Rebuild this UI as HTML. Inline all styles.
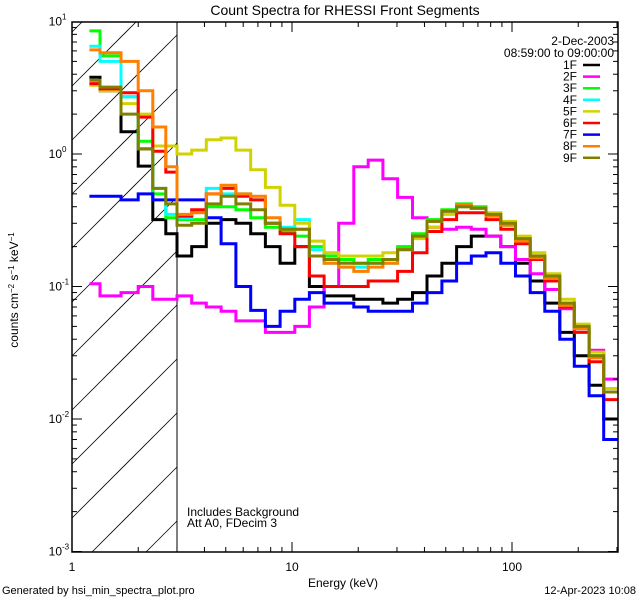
<!DOCTYPE html>
<html><head><meta charset="utf-8"><style>
html,body{margin:0;padding:0;background:#fff;width:640px;height:600px;overflow:hidden;}
svg{display:block;font-family:"Liberation Sans",sans-serif;}
</style></head><body>
<svg id="chart" width="640" height="600" viewBox="0 0 640 600">
<rect width="640" height="600" fill="#fff"/>
<text x="345" y="15" font-size="14" text-anchor="middle">Count Spectra for RHESSI Front Segments</text>
<defs><clipPath id="pc"><rect x="72" y="22" width="546" height="530"/></clipPath></defs>
<g id="hatch"></g>
<line x1="177" y1="22" x2="177" y2="552" stroke="#000" stroke-width="1"/>
<g id="series" clip-path="url(#pc)"></g>
<rect x="72" y="22" width="546" height="530" fill="none" stroke="#000" stroke-width="1.5"/>
<g id="ticks"></g>
<g id="legend" font-size="12">
<text x="614" y="45" text-anchor="end">2-Dec-2003</text>
<text x="614" y="57" text-anchor="end">08:59:00 to 09:00:00</text>
</g>
<text x="187" y="516" font-size="12">Includes Background</text>
<text x="187" y="527" font-size="12">Att A0, FDecim 3</text>
<text x="343" y="587" font-size="12" text-anchor="middle">Energy (keV)</text>
<text transform="translate(18,290) rotate(-90)" font-size="12" text-anchor="middle">counts cm<tspan dy="-4" font-size="8">−2</tspan><tspan dy="4"> s</tspan><tspan dy="-4" font-size="8">−1</tspan><tspan dy="4"> keV</tspan><tspan dy="-4" font-size="8">−1</tspan></text>
<text x="2" y="594" font-size="11">Generated by hsi_min_spectra_plot.pro</text>
<text x="636" y="594" font-size="11" text-anchor="end">12-Apr-2023 10:08</text>
</svg>
<script>
const energyEdges=[1.2,1.34,1.67,2.0,2.33,2.67,3.0,3.5,4.08,4.76,5.56,6.49,7.57,8.83,10.3,12.0,14.0,16.3,19.1,22.2,25.9,30.2,35.3,41.1,48.0,56.0,65.3,76.2,88.9,103.7,121,141,165,192,224,261,305];
const seriesNames=["1F","2F","3F","4F","5F","6F","7F","8F","9F"];
const seriesColors=["#000000","#ff00ff","#00ff00","#00ffff","#d2d200","#ff0000","#0000ff","#ff8000","#808000"];
const s1F=[3.8,3.0,1.47,0.81,0.32,0.25,0.17,0.2,0.3,0.32,0.3,0.25,0.2,0.15,0.2,0.1,0.085,0.085,0.08,0.08,0.075,0.08,0.09,0.12,0.15,0.2,0.24,0.24,0.2,0.15,0.11,0.075,0.045,0.03,0.018,0.01];
const s2F=[0.105,0.085,0.09,0.1,0.08,0.08,0.085,0.075,0.07,0.065,0.055,0.055,0.045,0.045,0.05,0.07,0.1,0.3,0.8,0.9,0.65,0.47,0.33,0.28,0.27,0.28,0.27,0.24,0.2,0.16,0.125,0.095,0.068,0.048,0.033,0.02];
const s3F=[8.5,5.5,2.7,1.25,0.5,0.33,0.32,0.32,0.4,0.4,0.38,0.33,0.28,0.26,0.24,0.2,0.17,0.16,0.15,0.16,0.16,0.2,0.25,0.32,0.38,0.42,0.4,0.35,0.3,0.23,0.17,0.12,0.075,0.05,0.03,0.017];
const s4F=[6.5,5.0,2.7,1.1,0.55,0.35,0.33,0.37,0.55,0.5,0.5,0.45,0.3,0.28,0.32,0.19,0.15,0.14,0.14,0.15,0.15,0.19,0.24,0.31,0.37,0.4,0.39,0.34,0.29,0.22,0.165,0.115,0.072,0.048,0.029,0.016];
const s5F=[3.3,3.0,2.4,2.0,1.15,1.15,1.0,1.07,1.28,1.32,1.07,0.76,0.56,0.41,0.3,0.22,0.18,0.17,0.17,0.17,0.18,0.19,0.23,0.28,0.35,0.4,0.39,0.36,0.31,0.24,0.18,0.125,0.08,0.052,0.032,0.017];
const s6F=[3.4,3.1,2.9,1.9,1.05,0.73,0.34,0.38,0.5,0.55,0.48,0.45,0.3,0.25,0.2,0.12,0.1,0.1,0.1,0.11,0.11,0.13,0.18,0.26,0.32,0.36,0.36,0.32,0.27,0.21,0.16,0.11,0.07,0.045,0.027,0.014];
const s7F=[0.48,0.48,0.45,0.5,0.45,0.45,0.45,0.45,0.33,0.21,0.1,0.066,0.05,0.065,0.08,0.09,0.075,0.075,0.07,0.065,0.065,0.065,0.075,0.09,0.11,0.15,0.17,0.18,0.15,0.12,0.09,0.065,0.04,0.025,0.015,0.007];
const s8F=[6.1,5.8,5.0,3.0,1.6,0.8,0.35,0.36,0.5,0.58,0.5,0.48,0.33,0.27,0.27,0.17,0.15,0.14,0.13,0.14,0.15,0.19,0.24,0.31,0.37,0.41,0.39,0.34,0.29,0.22,0.165,0.115,0.072,0.048,0.029,0.016];
const s9F=[3.6,3.2,2.0,1.09,0.55,0.42,0.29,0.3,0.42,0.48,0.42,0.38,0.3,0.27,0.27,0.17,0.16,0.15,0.15,0.15,0.16,0.19,0.24,0.31,0.37,0.4,0.39,0.35,0.3,0.23,0.17,0.12,0.075,0.05,0.03,0.016];
const allSeries=[s1F,s2F,s3F,s4F,s5F,s6F,s7F,s8F,s9F];
const yTickLabels=["10","10","10","10","10"];
const yTickExps=["1","0","-1","-2","-3"];
const xTickLabels=["1","10","100"];

const NS="http://www.w3.org/2000/svg";
const X0=72,XD=220,Y0=154,YD=132.5;
function xs(e){return X0+XD*Math.log10(e);}
function ys(v){return Y0-YD*Math.log10(v);}
function mk(t,a,p){const e=document.createElementNS(NS,t);for(const k in a)e.setAttribute(k,a[k]);p.appendChild(e);return e;}

// hatch lines y = c - (x-72), clipped to x in [72,177], y in [22,552]
const hg=document.getElementById('hatch');
for(let k=-2;k<14;k++){const c=86+54*k;
 let xa=Math.max(72,72+c-552), xb=Math.min(177,72+c-22);
 if(xb<=xa)continue;
 const l=mk('line',{x1:xa,y1:c-(xa-72),x2:xb,y2:c-(xb-72),stroke:'#000','stroke-width':0.8},hg);
 
 }

const sg=document.getElementById('series');
allSeries.forEach((vals,i)=>{
 let d='M'+xs(energyEdges[0]).toFixed(1)+','+ys(vals[0]).toFixed(1);
 for(let j=0;j<vals.length;j++){
  if(j>0)d+='V'+ys(vals[j]).toFixed(1);
  d+='H'+Math.min(618,xs(energyEdges[j+1])).toFixed(1);
 }
 const p=mk('path',{d:d,fill:'none',stroke:seriesColors[i],'stroke-width':3,'stroke-linejoin':'miter'},sg);
 
 
});

const tg=document.getElementById('ticks');
function tick(x1,y1,x2,y2){const l=mk('line',{x1,y1,x2,y2,stroke:'#000','stroke-width':1},tg);
 
 }
const xVals=[];
for(let d=0;d<3;d++)for(let m=1;m<10;m++){const e=m*Math.pow(10,d);if(e<=303)xVals.push(e);}
xVals.forEach(e=>{const x=xs(e);const L=(Math.log10(e)%1===0)?10:5;tick(x,552,x,552-L);tick(x,22,x,22+L);});
for(let d=-3;d<1;d++)for(let m=1;m<10;m++){const v=m*Math.pow(10,d);const y=ys(v);const L=m===1?10:5;tick(72,y,72+L,y);tick(618,y,618-L,y);}
tick(72,22,82,22);tick(618,22,608,22);
xTickLabels.forEach((s,i)=>{const t=mk('text',{x:xs(Math.pow(10,i)),y:571,'font-size':12,'text-anchor':'middle'},tg);t.textContent=s;
 
 });
yTickLabels.forEach((s,i)=>{const y=ys(Math.pow(10,1-i));const t=mk('text',{x:62,y:y+4,'font-size':12,'text-anchor':'end'},tg);t.textContent=s;
 
 
 const sp=mk('text',{x:62,y:y-2,'font-size':8},tg);sp.textContent=yTickExps[i];
 
 });

const lg=document.getElementById('legend');
seriesNames.forEach((n,i)=>{const y=65+11.6*i;
 const g=mk('g',{},lg);
 
 
 const t=mk('text',{x:577,y:y+4,'text-anchor':'end'},g);t.textContent=n;
 mk('line',{x1:583,y1:y,x2:600,y2:y,stroke:seriesColors[i],'stroke-width':2.5},g);});
</script>
</body></html>
